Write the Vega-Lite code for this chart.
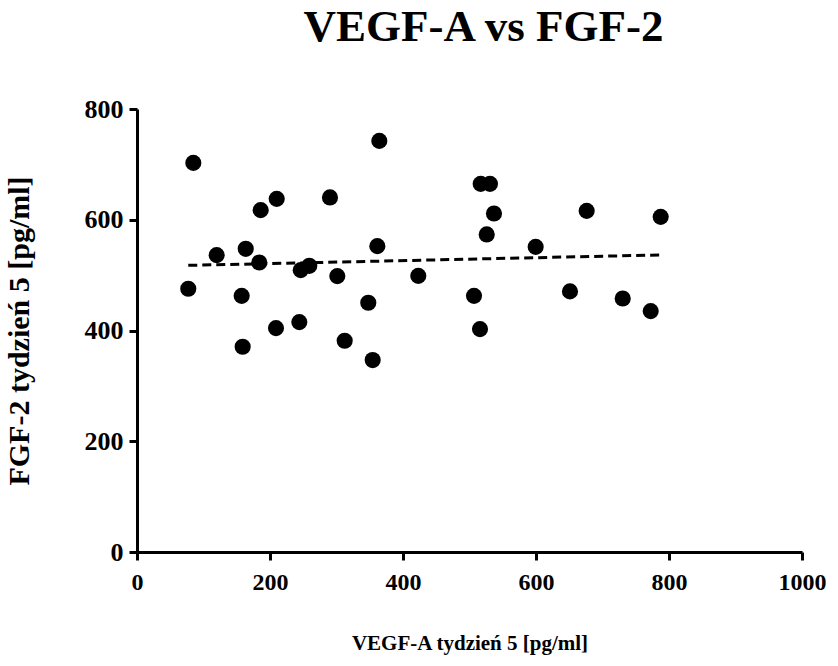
{
  "$schema": "https://vega.github.io/schema/vega-lite/v6.json",
  "autosize": {"type": "none"},
  "width": 665,
  "height": 443,
  "padding": {"left": 137, "top": 109, "right": 36, "bottom": 114},
  "background": "white",
  "title": {
    "text": "VEGF-A vs FGF-2",
    "font": "Liberation Serif",
    "fontSize": 45,
    "fontWeight": "bold",
    "color": "black",
    "anchor": "middle",
    "dx": 14,
    "offset": 46
  },
  "config": {
    "view": {"stroke": null},
    "axis": {
      "domainColor": "black",
      "domainWidth": 3,
      "tickColor": "black",
      "tickWidth": 3,
      "tickSize": 8,
      "grid": false,
      "labelFont": "Liberation Serif",
      "labelFontWeight": "bold",
      "labelFontSize": 24,
      "labelColor": "black",
      "titleFont": "Liberation Serif",
      "titleFontWeight": "bold",
      "titleColor": "black"
    }
  },
  "data": {
    "values": [
      {"vegf": 84.7, "fgf": 702.7},
      {"vegf": 364.4, "fgf": 742.4},
      {"vegf": 210.1, "fgf": 637.7},
      {"vegf": 186.0, "fgf": 617.3},
      {"vegf": 290.2, "fgf": 640.3},
      {"vegf": 119.8, "fgf": 536.1},
      {"vegf": 163.5, "fgf": 547.5},
      {"vegf": 183.9, "fgf": 522.9},
      {"vegf": 361.4, "fgf": 552.3},
      {"vegf": 246.2, "fgf": 509.0},
      {"vegf": 259.1, "fgf": 516.8},
      {"vegf": 301.2, "fgf": 498.2},
      {"vegf": 423.0, "fgf": 498.7},
      {"vegf": 77.1, "fgf": 475.3},
      {"vegf": 157.4, "fgf": 462.6},
      {"vegf": 347.8, "fgf": 450.0},
      {"vegf": 209.0, "fgf": 404.3},
      {"vegf": 244.1, "fgf": 415.2},
      {"vegf": 158.9, "fgf": 370.6},
      {"vegf": 312.3, "fgf": 381.4},
      {"vegf": 354.4, "fgf": 346.6},
      {"vegf": 516.8, "fgf": 664.8},
      {"vegf": 530.8, "fgf": 664.8},
      {"vegf": 536.8, "fgf": 611.4},
      {"vegf": 525.9, "fgf": 573.5},
      {"vegf": 599.5, "fgf": 551.1},
      {"vegf": 676.2, "fgf": 616.1},
      {"vegf": 787.5, "fgf": 605.2},
      {"vegf": 506.8, "fgf": 462.6},
      {"vegf": 515.8, "fgf": 402.5},
      {"vegf": 651.1, "fgf": 470.6},
      {"vegf": 730.4, "fgf": 457.9},
      {"vegf": 772.5, "fgf": 435.0}
    ]
  },
  "layer": [
    {
      "mark": {"type": "circle", "size": 260, "color": "black", "opacity": 1},
      "encoding": {
        "x": {
          "field": "vegf", "type": "quantitative",
          "scale": {"domain": [0, 1000], "nice": false},
          "axis": {"values": [0, 200, 400, 600, 800, 1000], "format": "d", "title": "VEGF-A tydzień 5 [pg/ml]", "titleFontSize": 21, "labelPadding": 10, "titlePadding": 38, "labelFlush": false}
        },
        "y": {
          "field": "fgf", "type": "quantitative",
          "scale": {"domain": [0, 800], "nice": false},
          "axis": {"values": [0, 200, 400, 600, 800], "format": "d", "title": "FGF-2 tydzień 5 [pg/ml]", "titleFontSize": 30, "labelFontSize": 26, "labelPadding": 6, "titlePadding": 50}
        }
      }
    },
    {
      "transform": [{"regression": "fgf", "on": "vegf"}],
      "mark": {"type": "line", "color": "black", "strokeWidth": 3, "strokeDash": [9, 5]},
      "encoding": {
        "x": {"field": "vegf", "type": "quantitative"},
        "y": {"field": "fgf", "type": "quantitative"}
      }
    }
  ]
}
